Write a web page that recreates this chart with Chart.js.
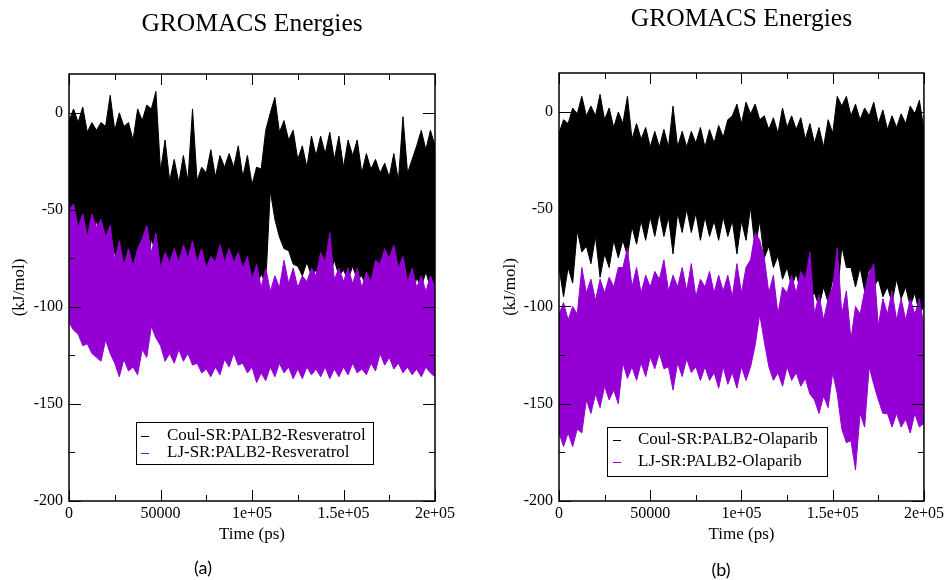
<!DOCTYPE html>
<html>
<head>
<meta charset="utf-8">
<title>GROMACS Energies</title>
<script src="https://cdn.jsdelivr.net/npm/chart.js@4.4.1/dist/chart.umd.min.js"></script>
<style>
  body { margin: 0; background: #fff; }
  #page { position: relative; width: 947px; height: 580px; overflow: hidden; background: #fff; }
  #panelA { position: absolute; left: 0; top: 0; }
  #panelB { position: absolute; left: 490px; top: 0; }
  .caption { position: absolute; width: 40px; text-align: center; font-family: Lato, "Open Sans", sans-serif; font-size: 18px; color: #000; }
</style>
</head>
<body>
<div id="page">
  <canvas id="panelA" width="504" height="580"></canvas>
  <canvas id="panelB" width="457" height="580"></canvas>
  <div class="caption" style="left:183px; top:556px;">(a)</div>
  <div class="caption" style="left:701px; top:558px;">(b)</div>
</div>
<script>
// Time axis (ps): edge of the dense trace read every 5000 ps,
// spike tips read half way between.
const timePs = [0, 5000, 10000, 15000, 20000, 25000, 30000, 35000, 40000, 45000,
  50000, 55000, 60000, 65000, 70000, 75000, 80000, 85000, 90000, 95000,
  100000, 105000, 110000, 115000, 120000, 125000, 130000, 135000, 140000, 145000,
  150000, 155000, 160000, 165000, 170000, 175000, 180000, 185000, 190000, 195000, 200000];
const timeMidPs = [2500, 7500, 12500, 17500, 22500, 27500, 32500, 37500, 42500, 47500,
  52500, 57500, 62500, 67500, 72500, 77500, 82500, 87500, 92500, 97500,
  102500, 107500, 112500, 117500, 122500, 127500, 132500, 137500, 142500, 147500,
  152500, 157500, 162500, 167500, 172500, 177500, 182500, 187500, 192500, 197500];

// Axis ticks.
const xTickVals = [0, 50000, 100000, 150000, 200000];
const xTickLabels = ['0', '50000', '1e+05', '1.5e+05', '2e+05'];
const xMinorVals = [25000, 75000, 125000, 175000];
const yTickVals = [-200, -150, -100, -50, 0];
const yTickLabels = ['-200', '-150', '-100', '-50', '0'];
const yMinorVals = [-175, -125, -75, -25];

// (a) PALB2-Resveratrol, kJ/mol.
const coulHiA = [-4, -5, -10, -9, -7, -9, -7, -14, -4, 2,
  -30, -35, -36, -35, -35, -31, -33, -28, -28, -33,
  -37, -29, 0, -10, -14, -24, -28, -22, -21, -24,
  -28, -22, -31, -29, -31, -33, -35, -31, -17, -19, -17];
const coulHiMidA = [2, 3, -5, -5, 9, 0, -5, 2, 4, 11,
  -14, -24, -22, 2, -28, -19, -22, -21, -17, -22,
  -28, -9, 8, -4, -9, -17, -12, -12, -10, -12,
  -14, -14, -21, -24, -26, -21, -2, -24, -9, -9];
const coulLoA = [-57, -62, -62, -55, -65, -72, -78, -83, -78, -65,
  -79, -79, -81, -79, -79, -81, -83, -81, -83, -80,
  -86, -83, -40, -64, -71, -79, -77, -81, -79, -76,
  -81, -79, -84, -86, -84, -88, -90, -90, -85, -82, -89];
const coulLoMidA = [-66, -68, -70, -70, -72, -80, -85, -88, -84, -72,
  -85, -86, -86, -85, -86, -88, -88, -87, -88, -88,
  -90, -88, -55, -70, -78, -84, -84, -86, -84, -84,
  -86, -86, -90, -92, -90, -94, -95, -95, -90, -90];
const ljHiA = [-50, -59, -64, -59, -64, -76, -79, -79, -65, -72,
  -80, -77, -77, -75, -77, -80, -77, -77, -77, -80,
  -86, -90, -92, -90, -88, -90, -87, -84, -77, -86,
  -87, -88, -90, -87, -78, -75, -80, -87, -90, -92, -90];
const ljHiMidA = [-47, -52, -52, -55, -58, -66, -70, -70, -58, -62,
  -72, -70, -68, -66, -70, -74, -68, -70, -72, -74,
  -78, -80, -84, -76, -80, -84, -80, -72, -62, -80,
  -80, -80, -82, -76, -70, -68, -74, -80, -84, -84];
const ljLoA = [-108, -114, -119, -126, -117, -129, -127, -131, -122, -110,
  -120, -124, -122, -124, -129, -132, -131, -127, -124, -129,
  -131, -134, -131, -129, -131, -132, -131, -132, -131, -132,
  -131, -129, -132, -129, -124, -126, -129, -131, -132, -131, -136];
const ljLoMidA = [-112, -120, -124, -128, -124, -136, -133, -135, -126, -116,
  -128, -129, -128, -130, -134, -136, -135, -131, -130, -134,
  -139, -138, -136, -134, -137, -137, -135, -136, -137, -136,
  -135, -134, -135, -133, -130, -132, -134, -135, -136, -134];

// (b) PALB2-Olaparib, kJ/mol.
const coulHiB = [-11, -6, -1, -2, -2, -4, -8, -6, -14, -14,
  -18, -18, -18, -18, -18, -16, -18, -16, -13, -2,
  -6, -1, -4, -9, -11, -8, -9, -14, -16, -18,
  -11, 3, -2, -4, -2, -6, -9, -8, -6, -1, -9];
const coulHiMidB = [-4, 2, 8, 3, 9, 2, 0, 8, -6, -8,
  -10, -9, 3, -10, -10, -8, -9, -7, -4, 4,
  5, 4, -2, -3, 2, -2, -3, -6, -8, -4,
  8, 8, 4, 2, 5, 1, -2, -1, 3, 6];
const coulLoB = [-80, -80, -61, -69, -64, -73, -66, -66, -59, -56,
  -54, -52, -54, -52, -50, -52, -54, -56, -54, -56,
  -56, -49, -56, -69, -74, -80, -83, -86, -93, -90,
  -86, -69, -80, -80, -80, -86, -90, -86, -90, -93, -100];
const coulLoMidB = [-95, -88, -72, -78, -85, -80, -75, -74, -68, -66,
  -64, -64, -73, -62, -62, -66, -64, -66, -64, -73,
  -66, -70, -75, -80, -86, -90, -93, -96, -100, -98,
  -95, -80, -90, -92, -90, -95, -98, -96, -100, -104];
const ljHiB = [-104, -107, -104, -93, -97, -93, -90, -80, -90, -93,
  -90, -86, -92, -90, -92, -95, -90, -93, -92, -95,
  -93, -76, -66, -93, -104, -93, -93, -86, -104, -107,
  -90, -104, -117, -104, -83, -110, -104, -107, -107, -104, -110];
const ljHiMidB = [-98, -100, -80, -86, -86, -85, -80, -70, -80, -84,
  -82, -76, -84, -80, -78, -86, -82, -84, -84, -78,
  -80, -62, -75, -84, -90, -84, -82, -72, -94, -96,
  -70, -92, -100, -92, -78, -96, -92, -96, -96, -96];
const ljLoB = [-165, -165, -163, -148, -145, -141, -143, -129, -131, -129,
  -126, -124, -131, -129, -127, -131, -131, -134, -131, -134,
  -131, -131, -104, -131, -134, -131, -134, -137, -148, -146,
  -134, -163, -169, -155, -131, -148, -155, -155, -158, -155, -160];
const ljLoMidB = [-172, -172, -165, -155, -152, -148, -150, -137, -138, -136,
  -132, -132, -143, -136, -134, -138, -138, -142, -140, -142,
  -138, -120, -118, -138, -141, -138, -141, -145, -155, -152,
  -145, -170, -184, -162, -140, -155, -162, -162, -165, -162];

const SERIF = '"Liberation Serif", "Times New Roman", serif';
const BLACK = '#000000';
const PURPLE = 'rgb(148,0,211)';

// Merge the 5000 ps readings with the half-way spike readings.
function edge(values, midValues) {
  const out = [];
  timePs.forEach((t, i) => {
    out.push({ x: t, y: values[i] });
    if (i < timeMidPs.length) {
      out.push({ x: timeMidPs[i], y: midValues[i] });
    }
  });
  return out;
}

// Two filled bands per panel; purple listed first so it is drawn on top.
function energyDatasets(s) {
  const base = { pointRadius: 0, borderWidth: 1, tension: 0 };
  return [
    Object.assign({ label: s.ljLabel, data: edge(s.ljHi, s.ljHiMid), borderColor: PURPLE, backgroundColor: PURPLE, fill: '+1' }, base),
    Object.assign({ label: '', data: edge(s.ljLo, s.ljLoMid), borderColor: PURPLE, fill: false }, base),
    Object.assign({ label: s.coulLabel, data: edge(s.coulHi, s.coulHiMid), borderColor: BLACK, backgroundColor: BLACK, fill: '+1' }, base),
    Object.assign({ label: '', data: edge(s.coulLo, s.coulLoMid), borderColor: BLACK, fill: false }, base)
  ];
}

// Frame with inward ticks on all four sides, xmgrace style.
const graceFrame = {
  id: 'graceFrame',
  afterDatasetsDraw(chart) {
    const { ctx, chartArea: a, scales: { x, y } } = chart;
    ctx.save();
    ctx.strokeStyle = '#000';
    ctx.lineWidth = 1;
    ctx.beginPath();
    const xTicks = (vals, len) => vals.forEach(v => {
      const px = Math.round(x.getPixelForValue(v)) + 0.5;
      ctx.moveTo(px, a.bottom); ctx.lineTo(px, a.bottom - len);
      ctx.moveTo(px, a.top); ctx.lineTo(px, a.top + len);
    });
    const yTicks = (vals, len) => vals.forEach(v => {
      const py = Math.round(y.getPixelForValue(v)) + 0.5;
      ctx.moveTo(a.left, py); ctx.lineTo(a.left + len, py);
      ctx.moveTo(a.right, py); ctx.lineTo(a.right - len, py);
    });
    xTicks(xTickVals, 11);
    xTicks(xMinorVals, 6);
    yTicks(yTickVals, 12);
    yTicks(yMinorVals, 6);
    ctx.stroke();
    ctx.lineWidth = 1.5;
    ctx.strokeRect(a.left, a.top, a.right - a.left, a.bottom - a.top);
    ctx.restore();
  }
};

// Boxed legend placed inside the plot.
const boxLegend = {
  id: 'boxLegend',
  afterDraw(chart, args, opts) {
    const { ctx } = chart;
    const entries = chart.data.datasets.filter(d => d.label).reverse();
    ctx.save();
    ctx.fillStyle = '#fff';
    ctx.fillRect(opts.left, opts.top, opts.width, opts.height);
    ctx.strokeStyle = '#000';
    ctx.lineWidth = 1;
    ctx.strokeRect(opts.left + 0.5, opts.top + 0.5, opts.width, opts.height);
    ctx.font = '17px ' + SERIF;
    ctx.textBaseline = 'middle';
    entries.forEach((d, i) => {
      const yy = opts.firstRow + i * opts.rowGap;
      ctx.strokeStyle = d.borderColor;
      ctx.beginPath();
      ctx.moveTo(opts.lineX, yy + 0.5);
      ctx.lineTo(opts.lineX + 8, yy + 0.5);
      ctx.stroke();
      ctx.fillStyle = '#000';
      ctx.fillText(d.label, opts.textX, yy);
    });
    ctx.restore();
  }
};

function panelOptions(p) {
  return {
    responsive: false,
    animation: false,
    layout: { padding: { left: 0, right: p.padRight, top: 0, bottom: 0 } },
    plugins: {
      legend: { display: false },
      tooltip: { enabled: false },
      title: {
        display: true,
        text: 'GROMACS Energies',
        fullSize: false,
        color: '#000',
        font: { family: SERIF, size: 25.5, weight: 'normal' },
        padding: { top: p.titleTop, bottom: p.titleBottom }
      },
      boxLegend: p.legend
    },
    scales: {
      x: {
        type: 'linear',
        min: 0,
        max: 200000,
        grid: { display: false, drawTicks: false },
        border: { display: false },
        afterBuildTicks: s => { s.ticks = xTickVals.map(v => ({ value: v })); },
        afterFit: s => { s.height = 79; },
        ticks: {
          autoSkip: false,
          maxRotation: 0,
          padding: 3,
          color: '#000',
          font: { family: SERIF, size: 16 },
          callback: (v, i) => xTickLabels[i]
        },
        title: {
          display: true,
          text: 'Time (ps)',
          color: '#000',
          font: { family: SERIF, size: 17 },
          padding: { top: 0, bottom: 35 }
        }
      },
      y: {
        type: 'linear',
        min: -200,
        max: 20,
        grid: { display: false, drawTicks: false },
        border: { display: false },
        afterBuildTicks: s => { s.ticks = yTickVals.map(v => ({ value: v })); },
        afterFit: s => { s.width = 69; },
        ticks: {
          autoSkip: false,
          padding: 6,
          color: '#000',
          font: { family: SERIF, size: 16 },
          callback: (v, i) => yTickLabels[i]
        },
        title: {
          display: true,
          text: '(kJ/mol)',
          color: '#000',
          font: { family: SERIF, size: 17 },
          padding: { top: p.yTitlePad, bottom: 0 }
        }
      }
    }
  };
}

new Chart(document.getElementById('panelA'), {
  type: 'line',
  data: {
    datasets: energyDatasets({
      coulHi: coulHiA, coulHiMid: coulHiMidA, coulLo: coulLoA, coulLoMid: coulLoMidA,
      ljHi: ljHiA, ljHiMid: ljHiMidA, ljLo: ljLoA, ljLoMid: ljLoMidA,
      coulLabel: 'Coul-SR:PALB2-Resveratrol', ljLabel: 'LJ-SR:PALB2-Resveratrol'
    })
  },
  options: panelOptions({
    padRight: 69, titleTop: 9.1, titleBottom: 34.3, yTitlePad: 9,
    legend: { left: 136, top: 422, width: 237, height: 42, lineX: 141, textX: 167, firstRow: 436, rowGap: 17 }
  }),
  plugins: [graceFrame, boxLegend]
});

new Chart(document.getElementById('panelB'), {
  type: 'line',
  data: {
    datasets: energyDatasets({
      coulHi: coulHiB, coulHiMid: coulHiMidB, coulLo: coulLoB, coulLoMid: coulLoMidB,
      ljHi: ljHiB, ljHiMid: ljHiMidB, ljLo: ljLoB, ljLoMid: ljLoMidB,
      coulLabel: 'Coul-SR:PALB2-Olaparib', ljLabel: 'LJ-SR:PALB2-Olaparib'
    })
  },
  options: panelOptions({
    padRight: 22, titleTop: 4.1, titleBottom: 38.3, yTitlePad: 10,
    legend: { left: 117, top: 427, width: 220, height: 49, lineX: 123, textX: 148, firstRow: 440, rowGap: 22 }
  }),
  plugins: [graceFrame, boxLegend]
});
</script>
</body>
</html>
